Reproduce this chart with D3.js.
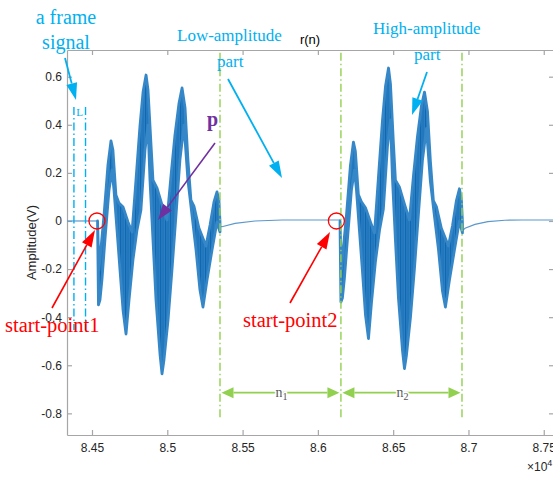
<!DOCTYPE html>
<html>
<head>
<meta charset="utf-8">
<script src="https://d3js.org/d3.v7.min.js"></script>
<style>
  body { margin: 0; background: #fff; }
  svg text { font-family: "Liberation Sans", Arial, sans-serif; }
  svg text.serif { font-family: "Liberation Serif", "Times New Roman", serif; }
</style>
</head>
<body>
<svg id="chart" width="553" height="478"></svg>
<script>
// ticks (sample index n, amplitude in V)
const xTicks = [84500, 85000, 85500, 86000, 86500, 87000, 87500];
const xTickLabels = ["8.45", "8.5", "8.55", "8.6", "8.65", "8.7", "8.75"];
const yTicks = [0.6, 0.4, 0.2, 0, -0.2, -0.4, -0.6, -0.8];
const yTickLabels = ["0.6", "0.4", "0.2", "0", "-0.2", "-0.4", "-0.6", "-0.8"];

// quiet parts of r(n), thin line
const preN = [84334, 84537];
const preV = [0, 0];
const low1N = [85350, 85363, 85450, 85582, 85762, 86047, 86147];
const low1V = [-0.023, -0.024, -0.01, 0, 0.004, 0.004, 0.004];
const low2N = [86960, 86977, 87043, 87129, 87242, 87355, 87568];
const low2V = [-0.04, -0.03, -0.014, -0.003, 0.003, 0.004, 0.004];

// dense bursts: upper and lower envelope
const burst1TopN = [84537, 84546, 84580, 84606, 84626, 84639, 84659, 84679, 84706, 84739, 84766, 84792, 84819, 84839, 84859, 84872, 84892, 84905, 84932, 84965, 84998, 85025, 85051, 85078, 85098, 85118, 85137, 85157, 85177, 85210, 85257, 85284, 85310, 85330, 85343, 85350];
const burst1TopV = [0, -0.204, 0.025, 0.233, 0.333, 0.295, 0.108, 0.075, 0.058, -0.004, -0.046, 0.17, 0.399, 0.536, 0.607, 0.545, 0.316, 0.17, 0.137, 0.067, 0.004, 0.191, 0.358, 0.491, 0.553, 0.47, 0.254, 0.087, 0.062, -0.029, -0.104, -0.017, 0.079, 0.121, 0.087, -0.004];
const burst1BotN = [84537, 84543, 84553, 84566, 84586, 84613, 84633, 84646, 84666, 84686, 84706, 84726, 84746, 84772, 84799, 84825, 84852, 84872, 84885, 84905, 84925, 84952, 84965, 84978, 85005, 85031, 85058, 85084, 85111, 85137, 85164, 85191, 85217, 85237, 85264, 85297, 85330, 85350];
const burst1BotV = [-0.017, -0.349, -0.328, -0.245, -0.079, 0.129, 0.212, 0.129, -0.037, -0.204, -0.37, -0.47, -0.328, -0.162, -0.037, 0.046, 0.295, 0.399, 0.17, -0.079, -0.328, -0.557, -0.636, -0.578, -0.412, -0.204, 0.025, 0.254, 0.399, 0.17, 0.025, -0.121, -0.287, -0.358, -0.245, -0.121, -0.004, -0.046];

const burst2TopN = [86147, 86156, 86190, 86216, 86236, 86249, 86269, 86289, 86316, 86349, 86376, 86402, 86429, 86449, 86469, 86482, 86502, 86515, 86542, 86575, 86608, 86635, 86661, 86688, 86708, 86728, 86747, 86767, 86787, 86820, 86867, 86894, 86920, 86940, 86953, 86960];
const burst2TopV = [0, -0.2, 0.025, 0.23, 0.328, 0.29, 0.11, 0.08, 0.055, -0.004, -0.05, 0.18, 0.42, 0.56, 0.636, 0.57, 0.32, 0.17, 0.14, 0.07, 0.004, 0.19, 0.35, 0.48, 0.536, 0.455, 0.25, 0.085, 0.06, -0.03, -0.104, -0.02, 0.085, 0.134, 0.09, -0.004];
const burst2BotN = [86147, 86153, 86163, 86176, 86196, 86223, 86243, 86256, 86276, 86296, 86316, 86336, 86356, 86382, 86409, 86435, 86462, 86482, 86495, 86515, 86535, 86562, 86575, 86588, 86615, 86641, 86668, 86694, 86721, 86747, 86774, 86801, 86827, 86847, 86874, 86907, 86940, 86960];
const burst2BotV = [-0.017, -0.337, -0.32, -0.24, -0.079, 0.13, 0.21, 0.13, -0.04, -0.21, -0.39, -0.489, -0.34, -0.17, -0.04, 0.05, 0.31, 0.42, 0.18, -0.08, -0.32, -0.54, -0.614, -0.56, -0.4, -0.2, 0.03, 0.25, 0.385, 0.165, 0.02, -0.12, -0.29, -0.358, -0.245, -0.12, 0, -0.05];

// markers
const frameN = [84380, 84457];          // cyan frame lines
const frameV = [0.474, -0.453];
const segN = [85350, 86153, 86957];     // green split lines
const segV = [0.70, -0.82];
const spanV = -0.714;                   // level of n1 / n2 arrows
const spanLabels = ["1", "2"];
const startN = [84533, 86123];          // red circles
const startV = [0, 0];

const svg = d3.select("#chart");
const plotL = 67, plotR = 554, plotT = 50, plotB = 435;

const x = d3.scaleLinear().domain([84334, 87568]).range([plotL, plotR]);
const y = d3.scaleLinear().domain([-0.89, 0.711]).range([plotB, plotT]);

svg.append("rect").attr("width", 553).attr("height", 478).attr("fill", "#fff");

// streaky fill for the dense signal
const defs = svg.append("defs");
const pat = defs.append("pattern").attr("id", "dense")
  .attr("patternUnits", "userSpaceOnUse").attr("width", 5).attr("height", 9);
pat.append("rect").attr("width", 5).attr("height", 9).attr("fill", "#2a7fc3");
pat.append("rect").attr("x", 0).attr("width", 1.2).attr("height", 9).attr("fill", "#1068b2");
pat.append("rect").attr("x", 2.6).attr("width", 0.9).attr("height", 9).attr("fill", "#176db5");

// axes
const axisColor = "#a6a6a6";
function styleAxis(g) {
  g.selectAll(".domain, line").attr("stroke", axisColor).attr("stroke-width", 1.2);
  g.selectAll("text").attr("fill", "#262626").attr("font-size", 12);
}
svg.append("g").attr("transform", `translate(0,${plotB})`)
  .call(d3.axisBottom(x).tickValues(xTicks).tickFormat((d, i) => xTickLabels[i])
    .tickSizeInner(-5).tickSizeOuter(0).tickPadding(8))
  .call(styleAxis);
svg.append("g").attr("transform", `translate(0,${plotT})`)
  .call(d3.axisTop(x).tickValues(xTicks).tickFormat("").tickSizeInner(-5).tickSizeOuter(0))
  .call(styleAxis);
svg.append("g").attr("transform", `translate(${plotL},0)`)
  .call(d3.axisLeft(y).tickValues(yTicks).tickFormat((d, i) => yTickLabels[i])
    .tickSizeInner(-5).tickSizeOuter(0).tickPadding(5))
  .call(styleAxis);
svg.append("g").attr("transform", `translate(${plotR},0)`)
  .call(d3.axisRight(y).tickValues(yTicks).tickFormat("").tickSizeInner(-5).tickSizeOuter(0))
  .call(styleAxis);

svg.append("text").attr("x", 527).attr("y", 471).attr("font-size", 12).attr("fill", "#262626")
  .text("\u00d710").append("tspan").attr("dy", -5).attr("font-size", 9).text("4");
svg.append("text").attr("transform", "translate(36,242.5) rotate(-90)")
  .attr("text-anchor", "middle").attr("font-size", 13).attr("fill", "#262626").text("Amplitude(V)");
svg.append("text").attr("x", 310).attr("y", 44).attr("text-anchor", "middle")
  .attr("font-size", 13).attr("fill", "#000").text("r(n)");

// signal
const line = d3.line().x(d => x(d[0])).y(d => y(d[1]));
[[preN, preV], [low1N, low1V], [low2N, low2V]].forEach(([ns, vs]) => {
  svg.append("path").attr("d", line(ns.map((n, i) => [n, vs[i]])))
    .attr("fill", "none").attr("stroke", "#5b98cb").attr("stroke-width", 1.2);
});
[[burst1TopN, burst1TopV, burst1BotN, burst1BotV],
 [burst2TopN, burst2TopV, burst2BotN, burst2BotV]].forEach(([tn, tv, bn, bv]) => {
  const pts = tn.map((n, i) => [n, tv[i]])
    .concat(bn.map((n, i) => [n, bv[i]]).reverse());
  svg.append("path").attr("d", line(pts) + "Z")
    .attr("fill", "url(#dense)").attr("stroke", "#3587c7").attr("stroke-width", 2.8)
    .attr("stroke-linejoin", "round");
});

// dash-dot guide lines
const green = "#92d050", cyan = "#00b0f0";
segN.forEach(n => {
  svg.append("line").attr("x1", x(n)).attr("x2", x(n)).attr("y1", y(segV[0])).attr("y2", y(segV[1]))
    .attr("stroke", green).attr("stroke-width", 1.4).attr("stroke-dasharray", "8,3,1.5,3");
});
frameN.forEach(n => {
  svg.append("line").attr("x1", x(n)).attr("x2", x(n)).attr("y1", y(frameV[0])).attr("y2", y(frameV[1]))
    .attr("stroke", cyan).attr("stroke-width", 1.4).attr("stroke-dasharray", "8,3,1.5,3");
});

function head(g, x1, y1, x2, y2, color, hl, hw) {
  const a = Math.atan2(y2 - y1, x2 - x1);
  const bx = x2 - hl * Math.cos(a), by = y2 - hl * Math.sin(a);
  const px = -Math.sin(a) * hw / 2, py = Math.cos(a) * hw / 2;
  g.append("path").attr("d", `M${x2},${y2}L${bx + px},${by + py}L${bx - px},${by - py}Z`).attr("fill", color);
  return [bx, by];
}
function arrow(x1, y1, x2, y2, color, lw, hl, hw) {
  const [bx, by] = head(svg, x1, y1, x2, y2, color, hl, hw);
  svg.append("line").attr("x1", x1).attr("y1", y1).attr("x2", bx).attr("y2", by)
    .attr("stroke", color).attr("stroke-width", lw);
}

// n1 / n2 spans
const ys = y(spanV);
for (let k = 0; k < 2; k++) {
  const a = x(segN[k]) + 1.5, b = x(segN[k + 1]) - 1.5;
  const [l1] = head(svg, b, ys, a, ys, green, 12, 11);
  const [l2] = head(svg, a, ys, b, ys, green, 12, 11);
  svg.append("line").attr("x1", l1).attr("x2", l2).attr("y1", ys).attr("y2", ys)
    .attr("stroke", green).attr("stroke-width", 1.8);
  const t = svg.append("text").attr("class", "serif").attr("x", (a + b) / 2 - 5).attr("y", ys + 4)
    .attr("font-size", 14).attr("fill", "#555")
    .attr("stroke", "#fff").attr("stroke-width", 3).attr("paint-order", "stroke").text("n");
  t.append("tspan").attr("dy", 3).attr("font-size", 10).text(spanLabels[k]);
}

// start points
startN.forEach((n, i) => {
  svg.append("circle").attr("cx", x(n)).attr("cy", y(startV[i])).attr("r", 8)
    .attr("fill", "none").attr("stroke", "#ff0000").attr("stroke-width", 1.3);
});

// annotations
function label(txt, px, py, size, color, anchor, weight) {
  svg.append("text").attr("class", "serif").attr("x", px).attr("y", py)
    .attr("font-size", size).attr("fill", color).attr("text-anchor", anchor || "start")
    .attr("font-weight", weight || "normal").text(txt);
}
label("a frame", 66, 24, 20, cyan, "middle");
label("signal", 66, 49, 20, cyan, "middle");
label("L", 79.5, 116, 11, cyan, "middle");
label("Low-amplitude", 177, 41, 17, cyan);
label("part", 217, 67, 17, cyan);
label("High-amplitude", 373, 34, 17, cyan);
label("part", 414, 60, 17, cyan);
label("p", 207, 126, 20, "#7030a0", "start", "bold");
label("start-point1", 5, 332, 20.5, "#ff0000");
label("start-point2", 243, 327, 20.5, "#ff0000");

arrow(65, 58, 76, 100, cyan, 1.8, 17, 11);
arrow(228, 79, 282, 178, cyan, 1.8, 17, 11);
arrow(427, 72, 412, 115, cyan, 1.8, 17, 11);
arrow(215, 143, 158, 220, "#7030a0", 1.6, 16, 11);
arrow(52, 308, 95, 230, "#ff0000", 1.6, 17, 11);
arrow(290, 303, 330, 232, "#ff0000", 1.6, 17, 11);
</script>
</body>
</html>
